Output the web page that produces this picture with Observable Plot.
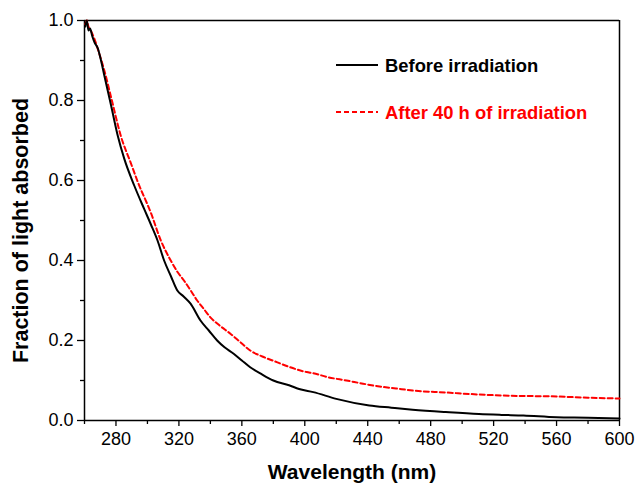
<!DOCTYPE html>
<html>
<head>
<meta charset="utf-8">
<script src="https://cdn.jsdelivr.net/npm/d3@7"></script>
<script src="https://cdn.jsdelivr.net/npm/@observablehq/plot@0.6"></script>
<style>
  body { margin: 0; background: #fff; }
  #wrap { position: relative; width: 636px; height: 484px; font-family: "Liberation Sans", Arial, sans-serif; }
  #legend { position: absolute; left: 0; top: 0; pointer-events: none; }
  #wrap svg g[aria-label$="tick label"], #wrap svg g[aria-label$="tick label"] text { font-size: 18px !important; }
</style>
</head>
<body>
<div id="wrap"></div>
<script>
// ---- data ----
const beforeWl = [260.5, 261.5, 262.5, 263.5, 265, 266.3, 268.5, 270.5, 272.6, 276.9, 281.1, 285.3, 291.6, 297.9, 302.2, 306.4, 310.6, 315, 319, 323, 327.4, 333.7, 339, 344.3, 349, 354.8, 360, 365.3, 372, 380, 390, 397, 405.4, 420, 441, 455, 468.5, 489.6, 510.7, 525, 539, 560, 580, 600];
const beforeVal = [0.985, 1.0, 0.975, 0.98, 0.96, 0.946, 0.93, 0.90, 0.8625, 0.7875, 0.7125, 0.654, 0.5875, 0.529, 0.49, 0.45, 0.40, 0.36, 0.325, 0.31, 0.292, 0.25, 0.225, 0.20, 0.183, 0.167, 0.15, 0.133, 0.117, 0.10, 0.088, 0.078, 0.071, 0.054, 0.0375, 0.032, 0.027, 0.021, 0.016, 0.014, 0.0125, 0.008, 0.007, 0.005];
const afterWl = [260.5, 261.5, 262.5, 264, 266.3, 269, 272.6, 276.9, 283.2, 289.5, 294, 300, 302.1, 308.5, 314.8, 319, 323.2, 327, 331.6, 336, 340, 346, 352.7, 359, 365.3, 373, 382.2, 390, 401.2, 405.4, 415, 426.5, 437, 447.5, 458, 468.5, 489.6, 510.7, 530, 560, 580, 600];
const afterVal = [0.99, 1.0, 0.985, 0.975, 0.954, 0.922, 0.875, 0.808, 0.71, 0.643, 0.595, 0.54, 0.52, 0.45, 0.40, 0.372, 0.35, 0.328, 0.30, 0.278, 0.258, 0.237, 0.217, 0.196, 0.175, 0.16, 0.146, 0.134, 0.121, 0.118, 0.108, 0.10, 0.092, 0.085, 0.08, 0.075, 0.07, 0.065, 0.062, 0.06, 0.057, 0.055];
const seriesNames = ["Before irradiation", "After 40 h of irradiation"];
const xMajor = [280, 320, 360, 400, 440, 480, 520, 560, 600];
const xMinor = [260, 300, 340, 380, 420, 460, 500, 540, 580];
const yMajor = [0.0, 0.2, 0.4, 0.6, 0.8, 1.0];
const yMinor = [0.1, 0.3, 0.5, 0.7, 0.9];
const xTitle = "Wavelength (nm)";
const yTitle = "Fraction of light absorbed";

const before = beforeWl.map((w, i) => ({w, v: beforeVal[i]}));
const after = afterWl.map((w, i) => ({w, v: afterVal[i]}));

const font = "Liberation Sans, Arial, sans-serif";

const chart = Plot.plot({
  width: 636,
  height: 484,
  marginLeft: 84,
  marginRight: 17,
  marginTop: 20,
  marginBottom: 64,
  style: {fontFamily: font, fontSize: "18px", color: "#000", background: "#fff"},
  x: {domain: [260, 600]},
  y: {domain: [0, 1]},
  marks: [
    Plot.axisX(xMinor, {tickSize: 4, strokeWidth: 1.3, text: null, label: null}),
    Plot.axisX(xMajor, {tickSize: 6, tickPadding: 6, strokeWidth: 1.3, tickFormat: d => String(d), fontSize: 18, label: null}),
    Plot.axisY(yMinor, {tickSize: 4, strokeWidth: 1.3, text: null, label: null}),
    Plot.axisY(yMajor, {tickSize: 7, tickPadding: 4, strokeWidth: 1.3, tickFormat: d => d.toFixed(1), fontSize: 18, label: null}),
    Plot.ruleY([0], {stroke: "#000", strokeWidth: 1.5}),
    Plot.ruleY([1], {stroke: "#000", strokeWidth: 1.5}),
    Plot.ruleX([260], {stroke: "#000", strokeWidth: 1.5}),
    Plot.ruleX([600], {stroke: "#000", strokeWidth: 1.5}),
    Plot.line(after, {x: "w", y: "v", stroke: "#ff0000", strokeWidth: 2, strokeDasharray: "5,3", curve: "monotone-x"}),
    Plot.line(before, {x: "w", y: "v", stroke: "#000", strokeWidth: 2, curve: "monotone-x"}),
    Plot.text([xTitle], {frameAnchor: "bottom", dy: 52, fontSize: 21, fontWeight: "bold", lineAnchor: "middle", fill: "#000"}),
    Plot.text([yTitle], {frameAnchor: "left", textAnchor: "middle", dx: -63, dy: 10, rotate: -90, fontSize: 21.5, fontWeight: "bold", lineAnchor: "middle", fill: "#000"})
  ]
});

const wrap = document.getElementById("wrap");
wrap.appendChild(chart);

// legend overlay
const ns = "http://www.w3.org/2000/svg";
const leg = document.createElementNS(ns, "svg");
leg.setAttribute("id", "legend");
leg.setAttribute("width", "636");
leg.setAttribute("height", "484");
const items = [
  {name: seriesNames[0], color: "#000", dash: null, y: 65},
  {name: seriesNames[1], color: "#ff0000", dash: "5,3", y: 112}
];
for (const it of items) {
  const l = document.createElementNS(ns, "line");
  l.setAttribute("x1", 336); l.setAttribute("x2", 378);
  l.setAttribute("y1", it.y); l.setAttribute("y2", it.y);
  l.setAttribute("stroke", it.color); l.setAttribute("stroke-width", 2);
  if (it.dash) l.setAttribute("stroke-dasharray", it.dash);
  leg.appendChild(l);
  const t = document.createElementNS(ns, "text");
  t.setAttribute("x", 385); t.setAttribute("y", it.y + 6.5);
  t.setAttribute("fill", it.color);
  t.setAttribute("font-family", font);
  t.setAttribute("font-size", "18.4");
  t.setAttribute("font-weight", "bold");
  t.textContent = it.name;
  leg.appendChild(t);
}
wrap.appendChild(leg);
</script>
</body>
</html>
